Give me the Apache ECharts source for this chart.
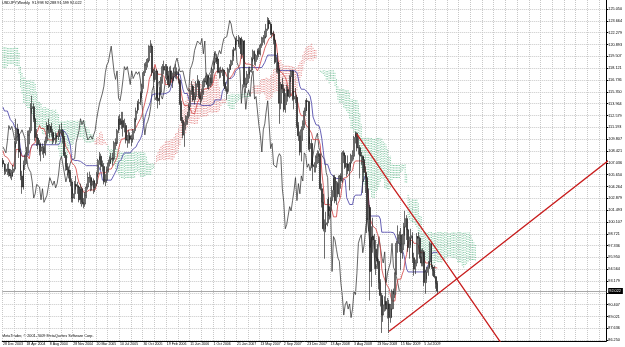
<!DOCTYPE html>
<html><head><meta charset="utf-8">
<script src="https://cdn.jsdelivr.net/npm/echarts@6/dist/echarts.min.js"></script>
<style>html,body{margin:0;padding:0;background:#fff}#c{width:625px;height:347px}</style>
</head><body><div id="c"></div>
<script>
const titleText = 'USDJPY,Weekly  91.998 92.288 91.599 92.022';
const copyrightText = 'MetaTrader, \u00a9 2001-2009 MetaQuotes Software Corp.';
const firstWeek = '2003-12-28';
const totalSlots = 413;
const xTickLabels = ['28 Dec 2003','18 Apr 2004','8 Aug 2004','28 Nov 2004','20 Mar 2005','10 Jul 2005','30 Oct 2005','19 Feb 2006','11 Jun 2006','1 Oct 2006','21 Jan 2007','13 May 2007','2 Sep 2007','23 Dec 2007','13 Apr 2008','3 Aug 2008','23 Nov 2008','15 Mar 2009','5 Jul 2009'];
const yTickValues = [125.050,123.664,122.279,120.893,119.507,118.121,116.736,115.350,113.964,112.579,111.193,109.807,108.421,107.036,105.650,104.264,102.879,101.493,100.107,98.721,97.336,95.950,94.564,93.179,91.793,90.407,89.021,87.636,86.250];
const yMin = 86.16, yMax = 126.104;

// history before the visible window (30 Jun 2002 .. 21 Dec 2003), rows [open, high, low, close]
const preOHLC = [
[119.6,120.0,117.2,117.8],[117.8,118.4,116.3,116.8],[116.8,117.3,115.5,116.2],[116.2,118.8,115.9,118.3],[118.3,120.3,118.0,119.7],
[119.7,120.0,118.2,118.7],[118.7,119.1,116.9,117.5],[117.5,118.5,116.8,118.0],[118.0,119.4,117.6,118.8],[118.8,119.8,118.2,119.3],
[119.3,121.0,118.9,120.4],[120.4,122.0,119.8,121.6],[121.6,123.2,120.9,122.5],[122.5,123.4,121.7,122.3],[122.3,124.0,121.9,123.5],
[123.5,125.3,123.1,124.6],[124.6,125.6,124.0,125.2],[125.2,125.4,122.2,122.6],[122.6,123.0,120.5,121.0],[121.0,121.6,119.4,120.2],
[120.2,122.3,119.9,122.0],[122.0,123.1,121.5,122.6],[122.6,125.6,122.3,124.8],[124.8,125.2,122.8,123.3],[123.3,123.7,120.6,121.0],
[121.0,121.5,119.8,120.5],[120.5,120.8,118.5,118.9],[118.9,120.0,118.2,119.5],[119.5,119.8,118.0,118.5],[118.5,118.9,117.4,118.2],
[118.2,120.1,117.8,119.8],[119.8,120.4,119.1,119.8],[119.8,121.3,119.5,120.9],[120.9,121.1,117.9,118.2],[118.2,118.6,117.2,117.6],
[117.6,118.2,116.8,117.6],[117.6,118.6,115.9,118.4],[118.4,121.5,118.0,120.6],[120.6,120.9,117.6,118.0],[118.0,119.6,117.5,119.2],
[119.2,120.6,118.8,120.1],[120.1,120.5,119.3,119.9],[119.9,120.1,118.2,118.6],[118.6,119.2,118.0,118.8],[118.8,119.0,116.6,116.9],
[116.9,117.3,115.8,116.6],[116.6,117.0,115.6,116.7],[116.7,118.8,116.4,118.5],[118.5,119.4,117.6,118.0],[118.0,118.9,117.3,118.5],
[118.5,118.8,117.4,118.5],[118.5,119.6,118.1,119.2],[119.2,120.0,118.8,119.4],[119.4,119.7,117.9,118.3],[118.3,118.7,116.9,117.3],
[117.3,119.8,117.0,119.5],[119.5,120.6,119.1,120.0],[120.0,120.5,117.9,118.2],[118.2,119.0,117.6,118.4],[118.4,118.9,117.6,118.0],
[118.0,118.4,116.1,116.5],[116.5,117.3,115.9,116.8],[116.8,117.4,115.9,116.5],[116.5,116.9,114.3,114.5],[114.5,114.8,111.2,111.8],
[111.8,112.3,109.8,110.2],[110.2,111.2,108.4,108.9],[108.9,109.9,108.6,109.3],[109.3,109.8,107.9,108.4],[108.4,109.8,108.1,109.4],
[109.4,110.4,108.9,109.7],[109.7,110.1,108.1,108.4],[108.4,109.6,107.8,109.3],[109.3,109.7,108.6,109.1],[109.1,109.4,107.4,107.6],
[107.6,108.4,107.0,107.6],[107.6,108.9,107.3,108.0],[108.0,108.2,106.9,107.3]
];

// visible weekly bars from 28 Dec 2003, rows [open, high, low, close]
const ohlc = [
[107.3,107.6,106.5,106.9],[106.9,107.0,105.6,106.0],[106.0,106.9,105.7,106.2],[106.2,106.9,105.6,106.3],[106.3,107.1,105.4,105.8],
[105.8,106.3,105.2,105.5],[105.5,106.2,105.0,105.9],[105.9,106.8,105.4,106.3],[106.3,109.6,106.0,109.3],[109.3,112.2,108.8,111.0],
[111.0,111.6,109.6,110.4],[110.4,110.9,107.6,108.3],[108.3,108.7,105.0,105.5],[105.5,106.1,103.4,104.2],[104.2,107.3,103.9,106.8],
[106.8,108.0,106.2,107.4],[107.4,108.9,106.9,108.2],[108.2,110.8,107.9,110.3],[110.3,111.2,109.2,110.8],[110.8,114.0,110.5,113.4],
[113.4,114.9,112.8,113.6],[113.6,114.0,111.8,112.2],[112.2,112.6,109.6,110.0],[110.0,111.0,109.0,109.9],[109.9,110.4,108.6,109.2],
[109.2,109.7,107.9,108.4],[108.4,109.4,107.2,108.9],[108.9,109.3,108.0,108.8],[108.8,109.0,107.6,108.2],[108.2,110.1,107.9,109.6],
[109.6,111.8,109.3,111.4],[111.4,112.2,110.5,110.9],[110.9,111.6,110.0,111.3],[111.3,111.7,110.1,110.6],[110.6,111.0,109.2,109.7],
[109.7,110.5,109.4,109.9],[109.9,110.6,109.2,110.2],[110.2,110.5,109.4,110.1],[110.1,110.9,109.7,110.5],[110.5,111.5,110.1,110.9],
[110.9,111.7,110.2,110.7],[110.7,111.0,109.3,109.9],[109.9,110.2,107.6,107.9],[107.9,108.3,106.1,106.6],[106.6,107.0,105.6,106.2],
[106.2,106.6,105.2,105.9],[105.9,106.2,104.3,104.8],[104.8,105.2,102.4,102.9],[102.9,104.0,102.4,103.4],[103.4,104.9,102.8,104.5],
[104.5,105.5,103.9,104.3],[104.3,104.8,103.4,104.2],[104.2,104.4,102.4,102.7],[102.7,104.6,102.2,104.0],[104.0,104.2,101.9,102.4],
[102.4,102.9,101.7,102.2],[102.2,103.6,101.9,103.2],[103.2,104.6,102.9,104.2],[104.2,105.9,103.9,105.3],[105.3,106.0,104.7,105.3],
[105.3,105.6,103.7,104.4],[104.4,105.2,103.8,104.9],[104.9,105.2,103.4,104.1],[104.1,105.0,103.6,104.6],[104.6,106.0,104.3,105.7],
[105.7,107.5,105.4,107.3],[107.3,108.3,106.8,107.8],[107.8,108.1,106.2,106.8],[106.8,107.3,106.0,106.6],[106.6,107.0,104.5,104.8],
[104.8,105.7,104.3,105.0],[105.0,106.6,104.7,106.2],[106.2,107.4,105.9,107.0],[107.0,107.8,106.6,107.4],[107.4,108.2,106.9,107.6],
[107.6,108.2,106.7,107.5],[107.5,109.6,107.2,109.4],[109.4,109.9,108.6,109.3],[109.3,111.0,109.0,110.8],[110.8,112.5,110.5,112.2],
[112.2,112.7,110.9,111.5],[111.5,113.0,111.0,112.0],[112.0,113.0,110.1,111.2],[111.2,112.2,110.6,111.4],[111.4,111.7,109.3,109.7],
[109.7,110.3,108.8,109.7],[109.7,110.9,109.3,110.2],[110.2,110.6,109.3,109.8],[109.8,110.3,109.0,109.8],[109.8,111.0,109.4,110.8],
[110.8,112.3,110.5,112.1],[112.1,113.5,111.8,113.1],[113.1,114.3,112.8,114.0],[114.0,114.5,113.2,114.1],[114.1,115.4,113.8,115.2],
[115.2,116.3,114.6,116.0],[116.0,117.8,115.7,117.6],[117.6,118.7,117.2,118.5],[118.5,119.2,117.9,118.8],[118.8,119.3,118.2,119.0],
[119.0,120.8,118.9,120.7],[120.7,121.4,119.9,120.7],[120.7,121.0,117.2,117.6],[117.6,118.0,115.9,116.8],[116.8,118.2,116.5,117.8],
[117.8,118.0,114.3,114.6],[114.6,115.0,113.4,114.3],[114.3,115.9,113.8,115.3],[115.3,117.1,115.0,116.7],[116.7,118.6,116.3,118.3],
[118.3,119.0,117.4,117.9],[117.9,118.6,116.9,118.3],[118.3,118.6,116.8,117.3],[117.3,117.8,115.8,116.2],[116.2,118.3,115.9,117.8],
[117.8,118.4,116.4,116.9],[116.9,117.6,115.8,117.1],[117.1,118.2,116.6,117.7],[117.7,118.6,116.9,117.4],[117.4,118.2,116.8,117.7],
[117.7,118.0,116.3,116.7],[116.7,116.9,113.8,114.0],[114.0,114.3,111.7,112.0],[112.0,112.4,109.9,110.3],[110.3,111.8,108.9,111.5],
[111.5,112.6,110.9,111.9],[111.9,113.0,111.5,112.5],[112.5,114.0,112.2,113.6],[113.6,115.7,113.2,115.5],[115.5,116.6,115.0,116.0],
[116.0,116.2,114.2,114.4],[114.4,115.3,113.9,114.8],[114.8,116.6,114.5,116.3],[116.3,117.3,115.9,116.6],[116.6,116.8,114.6,114.9],
[114.9,115.3,113.9,114.5],[114.5,115.7,114.2,115.3],[115.3,116.9,115.0,116.6],[116.6,117.0,115.9,116.5],[116.5,117.6,116.2,117.2],
[117.2,117.4,115.7,116.0],[116.0,117.3,115.6,117.0],[117.0,117.4,115.9,116.4],[116.4,118.2,116.1,118.0],[118.0,119.0,117.5,118.8],
[118.8,119.9,118.5,119.3],[119.3,119.8,118.6,119.2],[119.2,119.4,117.5,117.7],[117.7,118.2,116.9,117.6],[117.6,118.3,117.0,117.8],
[117.8,118.2,117.2,117.9],[117.9,118.0,116.0,116.3],[116.3,116.5,115.4,115.7],[115.7,116.0,114.4,115.4],[115.4,118.2,115.1,118.0],
[118.0,118.6,117.6,118.4],[118.4,119.1,117.9,119.0],[119.0,120.3,118.5,120.2],[120.2,120.6,119.5,120.4],[120.4,121.7,120.2,121.3],
[121.3,121.9,120.8,121.4],[121.4,122.0,120.6,120.9],[120.9,121.8,120.4,121.6],[121.6,121.8,119.2,119.8],[119.8,121.5,119.6,121.3],
[121.3,121.4,115.9,116.2],[116.2,117.0,115.2,116.3],[116.3,117.8,115.8,117.4],[117.4,118.2,116.4,117.7],[117.7,118.3,116.9,117.9],
[117.9,119.4,117.6,119.2],[119.2,120.3,118.9,120.1],[120.1,120.2,118.5,118.9],[118.9,119.8,118.4,119.6],[119.6,120.4,119.1,120.2],
[120.2,120.5,119.4,119.8],[119.8,121.0,119.6,120.8],[120.8,121.8,120.5,121.6],[121.6,122.0,121.1,121.7],[121.7,122.5,120.9,121.8],
[121.8,123.3,121.6,122.7],[122.7,124.1,122.5,123.7],[123.7,124.0,122.8,123.3],[123.3,123.5,122.0,122.2],[122.2,123.1,121.7,122.1],
[122.1,122.5,120.9,121.4],[121.4,121.6,118.6,118.8],[118.8,119.4,117.6,118.8],[118.8,119.9,117.5,117.9],[117.9,118.1,111.6,114.0],
[114.0,116.5,113.3,116.2],[116.2,117.0,115.2,115.7],[115.7,116.2,113.0,113.3],[113.3,115.2,112.9,114.9],[114.9,116.2,113.8,115.6],
[115.6,116.0,114.2,114.8],[114.8,117.3,114.6,117.1],[117.1,117.9,116.5,117.8],[117.8,117.9,114.3,114.5],[114.5,115.4,113.3,114.8],
[114.8,115.8,114.0,114.7],[114.7,115.0,111.1,111.4],[111.4,111.8,109.6,110.2],[110.2,110.7,107.9,108.3],[108.3,111.3,107.2,110.9],
[110.9,112.0,109.6,111.6],[111.6,113.5,111.1,113.1],[113.1,114.4,112.5,114.3],[114.3,114.6,113.1,114.2],[114.2,114.3,108.5,108.7],
[108.7,110.1,108.3,109.3],[109.3,109.8,106.4,106.8],[106.8,107.6,104.9,106.6],[106.6,107.1,105.9,106.5],[106.5,107.9,105.9,107.7],
[107.7,108.5,106.9,108.1],[108.1,108.4,107.0,107.8],[107.8,108.1,103.8,104.0],[104.0,104.6,101.8,102.4],[102.4,103.4,99.0,99.3],
[99.3,100.4,95.8,99.8],[99.8,101.3,98.9,100.0],[100.0,102.8,99.6,101.9],[101.9,103.0,100.8,101.4],[101.4,103.0,100.6,102.6],
[102.6,104.3,102.0,103.8],[103.8,105.6,103.0,105.3],[105.3,105.6,102.3,102.6],[102.6,104.9,102.1,104.6],[104.6,104.8,103.0,103.4],
[103.4,105.6,103.0,105.5],[105.5,105.8,104.0,104.9],[104.9,108.4,104.7,108.2],[108.2,108.5,107.0,107.9],[107.9,108.2,106.3,106.5],
[106.5,107.0,105.4,106.9],[106.9,107.9,105.7,106.1],[106.1,107.1,103.8,107.0],[107.0,108.1,106.5,107.9],[107.9,108.5,107.2,107.8],
[107.8,110.2,107.4,110.0],[110.0,110.7,109.3,110.5],[110.5,110.6,108.4,108.8],[108.8,110.0,108.0,108.8],[108.8,109.1,105.2,107.9],
[107.9,108.3,106.8,107.8],[107.8,107.9,103.5,107.4],[107.4,107.7,104.8,105.9],[105.9,106.6,103.5,105.3],[105.3,105.5,98.8,100.4],
[100.4,104.0,99.0,101.8],[101.8,102.1,90.9,94.3],[94.3,99.6,92.5,98.4],[98.4,100.6,96.5,98.0],[98.0,98.7,94.6,96.9],
[96.9,98.0,93.9,95.9],[95.9,97.5,94.6,95.5],[95.5,95.8,92.2,93.0],[93.0,93.4,90.2,91.5],[91.5,91.8,87.1,89.2],
[89.2,91.0,88.4,90.4],[90.4,91.4,89.6,90.8],[90.8,94.6,89.7,89.9],[89.9,91.2,88.8,90.5],[90.5,91.0,87.1,88.9],
[88.9,90.5,88.3,89.9],[89.9,92.2,88.9,92.0],[92.0,92.3,89.9,91.6],[91.6,94.2,91.2,94.1],[94.1,97.9,93.9,97.6],
[97.6,99.7,96.5,98.2],[98.2,99.0,96.6,98.6],[98.6,99.4,94.5,96.5],[96.5,98.7,95.8,97.5],[97.5,100.0,96.8,99.5],
[99.5,101.4,98.5,100.5],[100.5,100.9,98.0,99.2],[99.2,99.3,96.6,97.1],[97.1,98.4,95.8,98.2],[98.2,99.3,97.4,98.5],
[98.5,98.9,95.3,95.9],[95.9,96.5,93.8,94.6],[94.6,95.7,94.0,95.3],[95.3,98.8,94.9,98.4],[98.4,98.9,96.3,98.2],
[98.2,98.4,95.8,96.0],[96.0,96.9,94.9,95.3],[95.3,97.0,94.9,96.6],[96.6,96.8,92.6,93.0],[93.0,94.5,91.7,94.2],
[94.2,94.8,93.4,94.8],[94.8,95.5,93.8,95.4],[95.4,97.8,94.6,97.6],[97.6,97.8,94.6,94.8],[94.8,95.1,93.8,94.4],
[94.4,95.0,93.5,93.7],[93.7,93.8,92.3,92.9],[92.9,93.2,91.6,92.022]
];

// trendline anchors: [week index, price]
const descAnchors = [[242, 110.4], [292.9, 97.75]];
const ascAnchors = [[264, 87.3], [297.6, 91.78]];

// Ichimoku settings (9, 26, 52)
const tenkanLen = 9, kijunLen = 26, spanBLen = 52, shift = 26;

// ---------- build ----------
const months = ['Jan','Feb','Mar','Apr','May','Jun','Jul','Aug','Sep','Oct','Nov','Dec'];
const categories = [];
const d0 = new Date(firstWeek + 'T00:00:00Z');
for (let i = 0; i < totalSlots; i++) {
  const d = new Date(d0.getTime() + i * 7 * 86400000);
  categories.push(d.getUTCDate() + ' ' + months[d.getUTCMonth()] + ' ' + d.getUTCFullYear());
}
const all = preOHLC.concat(ohlc);
const P = preOHLC.length;
function midRange(end, len) {
  let h = -Infinity, l = Infinity;
  for (let k = Math.max(0, end - len + 1); k <= end; k++) { h = Math.max(h, all[k][1]); l = Math.min(l, all[k][2]); }
  return (h + l) / 2;
}
const candleData = ohlc.map(r => [r[0], r[3], r[2], r[1]]);
const tenkan = [], kijun = [], chikou = [], cloud = [];
for (let i = 0; i < ohlc.length; i++) {
  tenkan.push([i, midRange(P + i, tenkanLen)]);
  kijun.push([i, midRange(P + i, kijunLen)]);
  if (i + shift < ohlc.length) chikou.push([i, ohlc[i + shift][3]]);
}
for (let i = 0; i < ohlc.length + shift; i++) {
  const g = P + i - shift;
  const a = (midRange(g, tenkanLen) + midRange(g, kijunLen)) / 2;
  const b = midRange(g, spanBLen);
  cloud.push([i, a, b]);
}
function trend(an) {
  const [p, q] = an;
  const slope = (q[1] - p[1]) / (q[0] - p[0]);
  const mid = [(p[0] + q[0]) / 2, (p[1] + q[1]) / 2];
  const far = [totalSlots + 5, q[1] + slope * (totalSlots + 5 - q[0])];
  return [
    {value: p, symbolSize: 3}, {value: mid, symbolSize: 3}, {value: q, symbolSize: 3},
    {value: far, symbolSize: 0}
  ];
}
const lastClose = ohlc[ohlc.length - 1][3];
const FONT = 'Liberation Sans';

const chart = echarts.init(document.getElementById('c'), null, {renderer: 'canvas'});
chart.setOption({
  animation: false,
  backgroundColor: '#ffffff',
  title: {text: titleText, left: 2, top: 1, padding: 0,
    textStyle: {fontSize: 3.8, fontWeight: 'normal', color: '#000', fontFamily: FONT}},
  graphic: [{type: 'text', left: 2, top: 334,
    style: {text: copyrightText, fontSize: 3.8, fill: '#000', fontFamily: FONT}}],
  grid: {left: 0, right: 14, top: 0, bottom: 6, containLabel: false},
  xAxis: {
    type: 'category', data: categories, boundaryGap: true,
    axisLine: {show: true, lineStyle: {color: '#000', width: 1}},
    axisTick: {show: false},
    axisLabel: {
      show: true, interval: (idx) => idx % 16 === 0 && idx <= 288,
      formatter: (v, idx) => xTickLabels[Math.round(idx / 16)] || '',
      fontSize: 3.5, color: '#000', margin: 1.5, align: 'left', fontFamily: FONT
    },
    splitLine: {show: true, interval: (idx) => idx % 8 === 0,
      lineStyle: {color: '#c8c8c8', type: [1, 1], width: 1}}
  },
  yAxis: {
    type: 'value', position: 'right', min: yMin, max: yMax, scale: true,
    axisLine: {show: true, lineStyle: {color: '#000', width: 1}},
    axisTick: {show: true, customValues: yTickValues, length: 2, lineStyle: {color: '#000'}},
    axisLabel: {customValues: yTickValues, formatter: v => v.toFixed(3), fontSize: 3.8,
      color: '#000', margin: 2, fontFamily: FONT, showMinLabel: true, showMaxLabel: true},
    splitLine: {show: true, lineStyle: {color: '#c8c8c8', type: [1, 1], width: 1}}
  },
  series: [
    {
      type: 'custom', name: 'Kumo', data: cloud, encode: {x: 0, y: [1, 2]}, clip: true, z: 1,
      renderItem: function (params, api) {
        const i = api.value(0), a = api.value(1), b = api.value(2);
        const p1 = api.coord([i, a]), p2 = api.coord([i, b]);
        return {type: 'line', shape: {x1: p1[0], y1: p1[1], x2: p2[0], y2: p2[1]},
          style: {stroke: a >= b ? '#e27c7c' : '#6fc096', lineWidth: 1, lineDash: [1, 1.4], opacity: 0.9}};
      }
    },
    {type: 'line', name: 'Chikou', data: chikou, showSymbol: false, z: 3,
      lineStyle: {color: '#333333', width: 0.75}},
    {type: 'line', name: 'Kijun', data: kijun, showSymbol: false, z: 4,
      lineStyle: {color: '#4c44a8', width: 0.85}},
    {type: 'line', name: 'Tenkan', data: tenkan, showSymbol: false, z: 4,
      lineStyle: {color: '#d44a4a', width: 0.85}},
    {
      type: 'candlestick', name: 'USDJPY', data: candleData, barWidth: 1.4, z: 5,
      itemStyle: {color: '#ffffff', color0: '#1e1e1e', borderColor: '#1e1e1e', borderColor0: '#1e1e1e', borderWidth: 0.65},
      markLine: {
        silent: true, symbol: 'none', animation: false,
        lineStyle: {color: '#a8a8a8', width: 1, type: 'solid'},
        label: {show: true, position: 'end', distance: 2, formatter: () => lastClose.toFixed(3),
          backgroundColor: '#000', color: '#fff', fontSize: 3.8, padding: [1, 2, 1, 1], fontFamily: FONT},
        data: [{yAxis: lastClose}]
      }
    },
    {type: 'line', name: 'Trend down', data: trend(descAnchors), z: 6, clip: true,
      symbol: 'circle', showSymbol: true, itemStyle: {color: '#c81e1e'},
      lineStyle: {color: '#c81e1e', width: 1.3}},
    {type: 'line', name: 'Trend up', data: trend(ascAnchors), z: 6, clip: true,
      symbol: 'circle', showSymbol: true, itemStyle: {color: '#c81e1e'},
      lineStyle: {color: '#c81e1e', width: 1.3}}
  ]
});
</script></body></html>
